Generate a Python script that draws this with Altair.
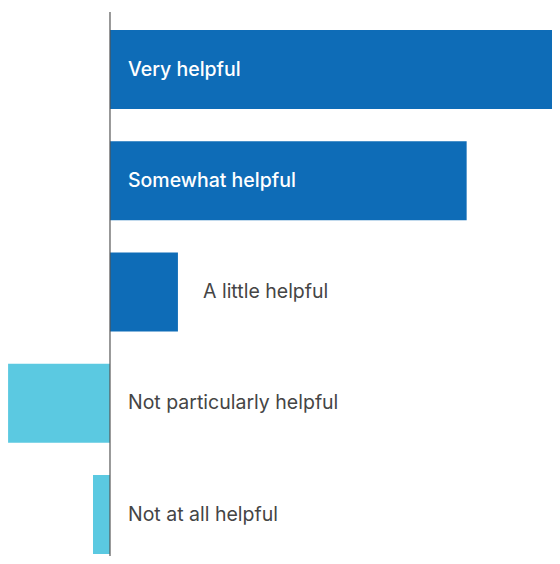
import altair as alt
import pandas as pd

categories = ["Very helpful", "Somewhat helpful", "A little helpful",
              "Not particularly helpful", "Not at all helpful"]
values = [53, 42, 8, -12, -2]
groups = ["helpful", "helpful", "helpful", "not", "not"]
label_group = ["inside", "inside", "outside_far", "outside", "outside"]

df = pd.DataFrame({"cat": categories, "value": values, "group": groups, "lab": label_group})

W, H = 544, 548
xscale = alt.Scale(domain=[-12.01, 52.05], nice=False, zero=False)
yscale = alt.Scale(domain=categories, paddingInner=0.29, paddingOuter=0.108, align=0.917)

base = alt.Chart(df)

bars = base.mark_bar(cornerRadius=0, clip=True).encode(
    x=alt.X("value:Q", scale=xscale, axis=None),
    x2=alt.datum(0),
    y=alt.Y("cat:N", scale=yscale, axis=None, sort=categories),
    color=alt.Color("group:N", scale=alt.Scale(domain=["helpful", "not"], range=["#0e6cb7", "#5bc9e1"]), legend=None),
)

rule = base.mark_rule(color="#555555", strokeWidth=1.2).encode(
    x=alt.datum(0),
    y=alt.value(4),
    y2=alt.value(H),
).transform_filter(alt.datum.cat == "Very helpful")

font = "Inter"
fs = 19.5
ycat = alt.Y("cat:N", scale=yscale, axis=None, sort=categories)
txt_in = base.transform_filter(alt.datum.lab == "inside").mark_text(
    align="left", baseline="middle", dx=18, font=font, fontSize=fs, color="white", fontWeight=500
).encode(x=alt.datum(0), y=ycat, text="cat:N")

txt_out = base.transform_filter(alt.datum.lab == "outside").mark_text(
    align="left", baseline="middle", dx=18, font=font, fontSize=fs, color="#454545"
).encode(x=alt.datum(0), y=ycat, text="cat:N")

txt_far = base.transform_filter(alt.datum.lab == "outside_far").mark_text(
    align="left", baseline="middle", dx=93, font=font, fontSize=fs, color="#454545"
).encode(x=alt.datum(0), y=ycat, text="cat:N")

chart = alt.layer(bars, rule, txt_in, txt_out, txt_far).properties(
    width=W, height=H, padding=0
).configure_view(stroke=None)

chart.save("out.html", embed_options={"renderer": "svg", "actions": False})
